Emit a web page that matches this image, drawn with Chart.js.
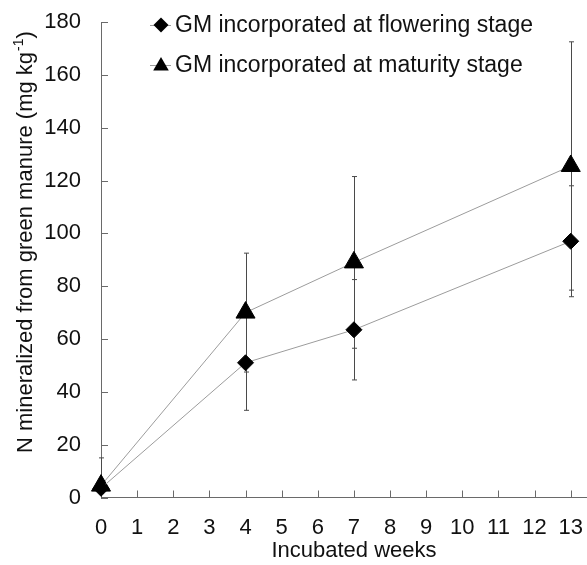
<!DOCTYPE html>
<html>
<head>
<meta charset="utf-8">
<script src="https://cdn.jsdelivr.net/npm/chart.js@4.4.1/dist/chart.umd.min.js"></script>
<style>
  html, body { margin: 0; padding: 0; background: #fff; }
  #wrap { width: 587px; height: 565px; position: relative; }
</style>
</head>
<body>
<div id="wrap"><canvas id="nChart"></canvas></div>
<script>
// Data
const weeks = [0, 4, 7, 13];
const floweringLabel = "GM incorporated at flowering stage";
const maturityLabel = "GM incorporated at maturity stage";
const floweringMean = [3.5, 51, 63.5, 97];
const floweringErr = [2, 18, 19, 21];
const maturityMean = [4.5, 70, 89, 125.5];
const maturityErr = [10.5, 22.5, 32.5, 47];
const xTickValues = [0, 1, 2, 3, 4, 5, 6, 7, 8, 9, 10, 11, 12, 13];
const yTickValues = [0, 20, 40, 60, 80, 100, 120, 140, 160, 180];
const xTitle = "Incubated weeks";
const yTitle = "N mineralized from green manure (mg kg";
const yTitleSup = "-1";
const yTitleEnd = ")";

const FONT = "'Liberation Sans', Arial, sans-serif";
const textColor = "#111";
const axisColor = "#6a6a6a";
const lineColor = "#9c9c9c";

function drawMarker(ctx, style, x, y, r) {
  ctx.beginPath();
  if (style === 'rectRot') {
    ctx.moveTo(x - r, y);
    ctx.lineTo(x, y - r);
    ctx.lineTo(x + r, y);
    ctx.lineTo(x, y + r);
  } else {
    ctx.moveTo(x, y - r);
    ctx.lineTo(x + r * 0.866, y + r / 2);
    ctx.lineTo(x - r * 0.866, y + r / 2);
  }
  ctx.closePath();
  ctx.fill();
}

// Error bars + inward tick marks, under the markers
const errorBars = {
  id: 'errorBars',
  beforeDatasetsDraw(chart) {
    const ctx = chart.ctx;
    const xs = chart.scales.x, ys = chart.scales.y;
    const area = chart.chartArea;
    ctx.save();

    // inward ticks
    ctx.strokeStyle = axisColor;
    ctx.lineWidth = 1;
    ctx.beginPath();
    xs.ticks.forEach(t => {
      const px = Math.round(xs.getPixelForValue(t.value)) + 0.5;
      ctx.moveTo(px, area.bottom);
      ctx.lineTo(px, area.bottom - 7);
    });
    ys.ticks.forEach(t => {
      const py = Math.round(ys.getPixelForValue(t.value)) + 0.5;
      ctx.moveTo(area.left, py);
      ctx.lineTo(area.left + 7, py);
    });
    ctx.stroke();

    // error bars
    ctx.strokeStyle = '#4a4a4a';
    chart.data.datasets.forEach(ds => {
      ds.errors.forEach((e, i) => {
        const p = ds.data[i];
        const px = Math.round(xs.getPixelForValue(p.x)) + 0.5;
        const top = ys.getPixelForValue(p.y + e);
        const bot = Math.min(ys.getPixelForValue(p.y - e), area.bottom);
        ctx.beginPath();
        ctx.moveTo(px, top);
        ctx.lineTo(px, bot);
        ctx.moveTo(px - 2.5, top);
        ctx.lineTo(px + 2.5, top);
        if (bot < area.bottom) {
          ctx.moveTo(px - 2.5, bot);
          ctx.lineTo(px + 2.5, bot);
        }
        ctx.stroke();
      });
    });
    ctx.restore();
  },
  afterDraw(chart) {
    const ctx = chart.ctx;
    const area = chart.chartArea;
    ctx.save();
    ctx.fillStyle = textColor;

    // legend inside the plot
    const rows = [
      { label: floweringLabel, style: 'rectRot', r: 7.5, y: area.top + 3 },
      { label: maturityLabel, style: 'triangle', r: 9, y: area.top + 43 }
    ];
    rows.forEach(row => {
      const mx = area.left + 60;
      ctx.strokeStyle = lineColor;
      ctx.lineWidth = 1;
      ctx.beginPath();
      ctx.moveTo(mx - 11, row.y + 0.5);
      ctx.lineTo(mx + 10, row.y + 0.5);
      ctx.stroke();
      ctx.fillStyle = '#000';
      drawMarker(ctx, row.style, mx, row.y + (row.style === 'triangle' ? 1 : 0), row.r);
      ctx.fillStyle = textColor;
      ctx.font = "23px " + FONT;
      ctx.textAlign = 'left';
      ctx.textBaseline = 'middle';
      ctx.fillText(row.label, mx + 14, row.y + 1);
    });

    // x title
    ctx.font = "22px " + FONT;
    ctx.textAlign = 'center';
    ctx.textBaseline = 'alphabetic';
    ctx.fillText(xTitle, (area.left + area.right) / 2 + 10, 557);

    // y title with superscript
    ctx.translate(32, 453);
    ctx.rotate(-Math.PI / 2);
    ctx.textAlign = 'left';
    ctx.font = "22px " + FONT;
    ctx.fillText(yTitle, 0, 0);
    let w = ctx.measureText(yTitle).width;
    ctx.font = "14px " + FONT;
    ctx.fillText(yTitleSup, w + 1, -9);
    w += ctx.measureText(yTitleSup).width + 1;
    ctx.font = "22px " + FONT;
    ctx.fillText(yTitleEnd, w, 0);
    ctx.restore();
  }
};

function makeData(means) {
  return weeks.map((w, i) => ({ x: w, y: means[i] }));
}

const ctx = document.getElementById('nChart');
new Chart(ctx, {
  type: 'line',
  data: {
    datasets: [
      {
        label: floweringLabel,
        data: makeData(floweringMean),
        errors: floweringErr,
        borderColor: lineColor,
        borderWidth: 1,
        pointStyle: 'rectRot',
        pointRadius: 8,
        pointBackgroundColor: '#000',
        pointBorderColor: '#000',
        pointBorderWidth: 1,
        tension: 0,
        clip: false
      },
      {
        label: maturityLabel,
        data: makeData(maturityMean),
        errors: maturityErr,
        borderColor: lineColor,
        borderWidth: 1,
        pointStyle: 'triangle',
        pointRadius: 11,
        pointBackgroundColor: '#000',
        pointBorderColor: '#000',
        pointBorderWidth: 1,
        tension: 0,
        clip: false
      }
    ]
  },
  options: {
    responsive: true,
    maintainAspectRatio: false,
    animation: false,
    layout: { autoPadding: false, padding: { top: 22, right: 0, bottom: 0, left: 0 } },
    plugins: {
      legend: { display: false },
      tooltip: { enabled: false }
    },
    scales: {
      x: {
        type: 'linear',
        min: 0,
        max: 13.45,
        afterBuildTicks: s => { s.ticks = xTickValues.map(v => ({ value: v })); },
        afterFit: s => {
          s.height = 67.5;
          s.paddingLeft = 0;
          s.paddingRight = 0;
        },
        grid: { display: false, drawTicks: false },
        border: { display: true, color: axisColor, width: 1 },
        ticks: {
          color: textColor,
          font: { family: FONT, size: 22 },
          padding: 17,
          maxRotation: 0,
          autoSkip: false
        }
      },
      y: {
        type: 'linear',
        min: 0,
        max: 180,
        afterBuildTicks: s => { s.ticks = yTickValues.map(v => ({ value: v })); },
        afterFit: s => {
          s.width = 101;
          s.paddingTop = 0;
          s.paddingBottom = 0;
        },
        grid: { display: false, drawTicks: false },
        border: { display: true, color: axisColor, width: 1 },
        ticks: {
          color: textColor,
          font: { family: FONT, size: 22 },
          padding: 20
        }
      }
    }
  },
  plugins: [errorBars]
});
</script>
</body>
</html>
